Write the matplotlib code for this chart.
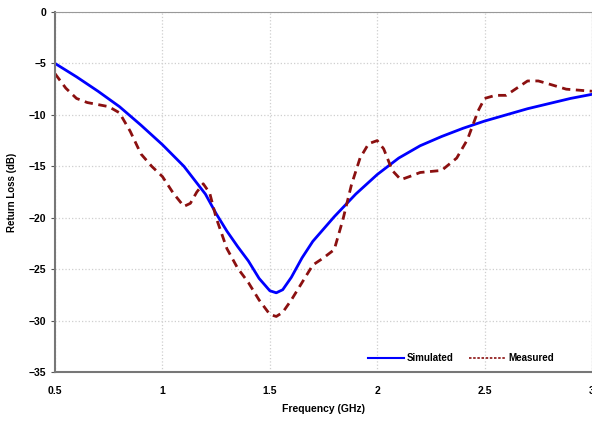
import numpy as np
import matplotlib.pyplot as plt

plt.rcParams['font.family'] = ['Liberation Sans', 'DejaVu Sans']

# Simulated return loss (dB) vs frequency (GHz)
sim_f = [0.5, 0.6, 0.7, 0.8, 0.9, 1.0, 1.1, 1.2, 1.25, 1.3, 1.35, 1.4, 1.45, 1.5,
         1.53, 1.56, 1.6, 1.65, 1.7, 1.8, 1.9, 2.0, 2.1, 2.2, 2.3, 2.4, 2.5,
         2.6, 2.7, 2.8, 2.9, 3.0]
sim_db = [-5.0, -6.3, -7.7, -9.2, -11.0, -12.9, -15.0, -17.7, -19.6, -21.3, -22.8,
          -24.2, -25.9, -27.1, -27.3, -27.0, -25.8, -23.9, -22.3, -19.9, -17.7,
          -15.8, -14.2, -13.0, -12.1, -11.3, -10.6, -10.0, -9.4, -8.9, -8.4, -8.0]

# Measured return loss
meas_f = [0.5, 0.55, 0.6, 0.65, 0.7, 0.75, 0.8, 0.85, 0.9, 0.95, 1.0, 1.05, 1.1,
          1.13, 1.16, 1.19, 1.22, 1.25, 1.3, 1.35, 1.4, 1.45, 1.5, 1.53, 1.56,
          1.6, 1.65, 1.7, 1.75, 1.8, 1.84, 1.88, 1.92, 1.96, 2.0, 2.03, 2.07,
          2.11, 2.15, 2.2, 2.3, 2.37, 2.42, 2.47, 2.5, 2.55, 2.6, 2.65, 2.7,
          2.75, 2.8, 2.88, 3.0]
meas_db = [-6.0, -7.4, -8.4, -8.8, -9.0, -9.2, -9.8, -11.6, -13.8, -15.0, -16.0,
           -17.6, -18.9, -18.6, -17.5, -16.7, -17.6, -20.0, -23.0, -24.9, -26.3,
           -28.0, -29.4, -29.6, -29.2, -28.0, -26.3, -24.6, -23.9, -23.1, -20.2,
           -16.8, -14.2, -12.8, -12.5, -13.3, -15.4, -16.3, -16.0, -15.6, -15.4,
           -14.2, -12.4, -9.6, -8.4, -8.1, -8.1, -7.4, -6.7, -6.7, -7.0, -7.5,
           -7.7]

fig = plt.figure(figsize=(5.92, 4.21), dpi=100)
ax = fig.add_axes([0.093, 0.1164, 0.907, 0.855])

ax.plot(sim_f, sim_db, color='#0000FF', lw=2.0, label='Simulated')
ax.plot(meas_f, meas_db, color='#8B1010', lw=2.0, ls=(0, (3, 2)), label='Measured')

ax.set_xlim(0.5, 3.0)
ax.set_ylim(-35, 0)
ax.set_xticks([0.5, 1, 1.5, 2, 2.5, 3])
ax.set_xticklabels(['0.5', '1', '1.5', '2', '2.5', '3'])
ax.set_yticks(range(-35, 1, 5))
ax.grid(True, color='#cfcfcf', ls=':', lw=0.9)
ax.tick_params(labelsize=7.5, length=3, color='#555555')
for lbl in ax.get_xticklabels() + ax.get_yticklabels():
    lbl.set_fontweight('bold')
ax.tick_params(axis='x', pad=10, length=0)

for s in ['left', 'bottom']:
    ax.spines[s].set_color('#777777')
    ax.spines[s].set_linewidth(1.5)
ax.spines['top'].set_color('#999999')
ax.spines['right'].set_color('#999999')

ax.set_xlabel('Frequency (GHz)', fontsize=7.5, fontweight='bold', labelpad=6)
ax.set_ylabel('Return Loss (dB)', fontsize=7, fontweight='bold', labelpad=8)

leg = ax.legend(loc='lower right', ncol=2, frameon=False, fontsize=7,
                bbox_to_anchor=(0.945, 0.0), handlelength=3.7, columnspacing=1.6,
                handletextpad=0.3)
for t in leg.get_texts():
    t.set_fontweight('bold')
leg.get_lines()[1].set_linestyle((0, (1.5, 1)))
leg.get_lines()[1].set_linewidth(1.2)
leg.get_lines()[0].set_linewidth(1.5)

fig.savefig('out.png', dpi=100)
